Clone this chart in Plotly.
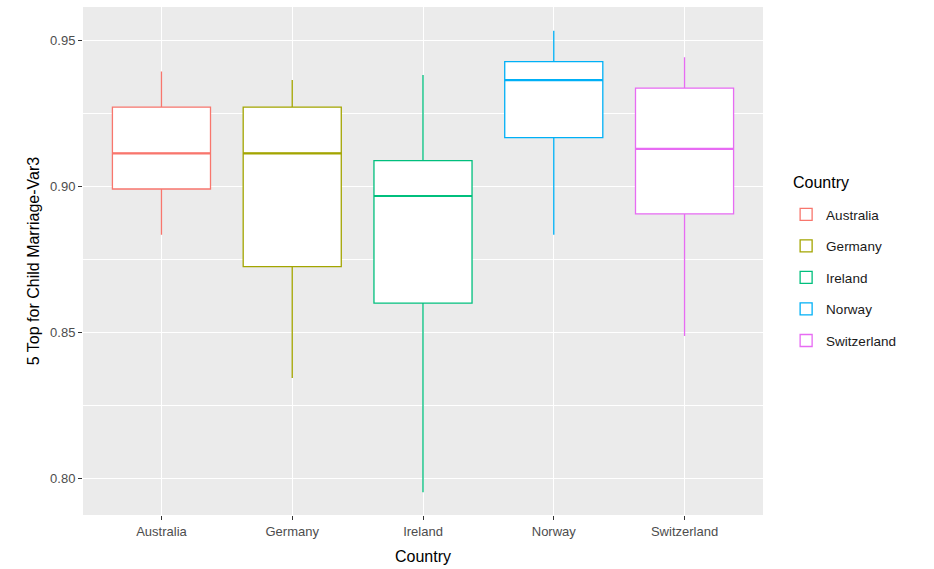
import plotly.graph_objects as go

countries = ["Australia", "Germany", "Ireland", "Norway", "Switzerland"]
colors = ["#F8766D", "#A3A500", "#00BF7D", "#00B0F6", "#E76BF3"]

# five-number summaries
lower = [0.8833, 0.8343, 0.7952, 0.8833, 0.8487]
q1 = [0.8990, 0.8724, 0.8599, 0.9166, 0.8905]
median = [0.9112, 0.9112, 0.8966, 0.9363, 0.9127]
q3 = [0.9270, 0.9270, 0.9087, 0.9426, 0.9335]
upper = [0.9392, 0.9363, 0.9380, 0.9532, 0.9441]

FONT = "Liberation Sans, Arial, sans-serif"

fig = go.Figure()
for i, name in enumerate(countries):
    fig.add_trace(
        go.Box(
            name=name,
            x=[name],
            q1=[q1[i]],
            median=[median[i]],
            q3=[q3[i]],
            lowerfence=[lower[i]],
            upperfence=[upper[i]],
            width=0.75,
            whiskerwidth=0,
            fillcolor="white",
            line=dict(color=colors[i], width=1.3),
            legendgroup=name,
            hoverinfo="skip",
        )
    )
    # thicker median like ggplot
    fig.add_shape(
        type="line",
        xref="x",
        yref="y",
        x0=i - 0.375,
        x1=i + 0.375,
        y0=median[i],
        y1=median[i],
        line=dict(color=colors[i], width=2.2),
    )

# legend title as annotation so the gap below it can match ggplot
fig.add_annotation(
    text="Country",
    xref="paper",
    yref="paper",
    x=1.041,
    y=0.6555,
    xanchor="left",
    yanchor="middle",
    showarrow=False,
    font=dict(size=16, color="black"),
)

fig.update_layout(
    width=934,
    height=569,
    margin=dict(l=83, r=171, t=7, b=54),
    plot_bgcolor="#EBEBEB",
    paper_bgcolor="white",
    boxmode="overlay",
    font=dict(family=FONT, color="#4D4D4D"),
    legend=dict(
        font=dict(size=13.5, color="#1A1A1A"),
        x=1.034,
        xanchor="left",
        y=0.622,
        yanchor="top",
        tracegroupgap=11,
        bgcolor="rgba(0,0,0,0)",
    ),
    showlegend=True,
)

fig.update_xaxes(
    title=dict(text="Country", font=dict(size=16, color="black"), standoff=13),
    categoryorder="array",
    categoryarray=countries,
    range=[-0.6, 4.6],
    showgrid=True,
    gridcolor="white",
    gridwidth=1.2,
    ticks="outside",
    ticklen=4,
    tickcolor="#333333",
    tickfont=dict(size=13, color="#4D4D4D"),
    zeroline=False,
    showline=False,
)

fig.update_yaxes(
    title=dict(text="5 Top for Child Marriage-Var3", font=dict(size=16, color="black"), standoff=6),
    range=[0.7874, 0.9613],
    tickvals=[0.80, 0.85, 0.90, 0.95],
    ticktext=["0.80", "0.85", "0.90", "0.95"],
    showgrid=True,
    gridcolor="white",
    gridwidth=1.2,
    minor=dict(tickvals=[0.825, 0.875, 0.925], showgrid=True, gridcolor="white", gridwidth=0.6),
    ticks="outside",
    ticklen=4,
    tickcolor="#333333",
    tickfont=dict(size=13, color="#4D4D4D"),
    zeroline=False,
    showline=False,
)

fig.write_html(
    "out.html",
    config={"displayModeBar": False},
    post_script="document.body.style.margin='0';",
)
